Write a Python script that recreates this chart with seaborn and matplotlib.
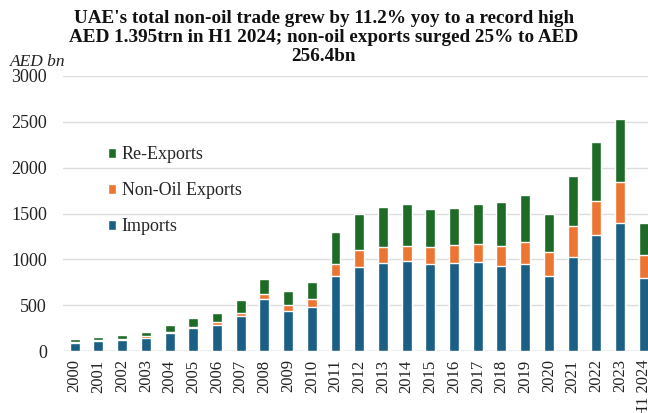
import numpy as np
import pandas as pd
import matplotlib
matplotlib.use("Agg")
import matplotlib.pyplot as plt
import seaborn as sns

# values (AED bn)
years = ['2000', '2001', '2002', '2003', '2004', '2005', '2006', '2007', '2008',
         '2009', '2010', '2011', '2012', '2013', '2014', '2015', '2016', '2017',
         '2018', '2019', '2020', '2021', '2022', '2023', 'H1 2024']
imports = [91, 107, 120, 145, 193, 247, 288, 382, 564, 441, 477, 822, 914, 965,
           986, 950, 965, 972, 932, 950, 816, 1023, 1263, 1398, 794]
non_oil_exports = [10, 12, 12, 15, 16, 15, 30, 38, 58, 65, 87, 131, 189, 167,
                   161, 182, 196, 193, 215, 240, 265, 342, 375, 444, 256]
re_exports = [30, 32, 39, 43, 78, 95, 93, 135, 164, 152, 189, 347, 396, 444,
              455, 419, 401, 440, 477, 510, 412, 543, 644, 688, 346]

c_imp = '#1b5f84'
c_exp = '#ec7532'
c_re = '#1e6b27'

df = pd.DataFrame({'year': years, 'Imports': imports,
                   'Non-Oil Exports': non_oil_exports, 'Re-Exports': re_exports})
df['imp_exp'] = df['Imports'] + df['Non-Oil Exports']
df['total'] = df['imp_exp'] + df['Re-Exports']

sns.set_theme(style='white')
plt.rcParams['font.family'] = ['Liberation Serif', 'DejaVu Serif']

fig = plt.figure(figsize=(6.48, 4.13), dpi=100)
ax = fig.add_axes([0.097, 0.150, 0.903, 0.666])

# stacked bars drawn as layered cumulative totals
sns.barplot(data=df, x='year', y='total', color=c_re, width=0.42,
            saturation=1, ax=ax, label='Re-Exports')
sns.barplot(data=df, x='year', y='imp_exp', color=c_exp, width=0.42,
            saturation=1, ax=ax, label='Non-Oil Exports')
sns.barplot(data=df, x='year', y='Imports', color=c_imp, width=0.42,
            saturation=1, ax=ax, label='Imports')

ax.set_ylim(0, 3000)
ax.set_xlim(-0.5, 24.18)
ax.set_yticks(range(0, 3001, 500))
ax.yaxis.grid(True, color='#dcdcdc', linewidth=1)
ax.set_axisbelow(True)
for s in ax.spines.values():
    s.set_visible(False)
ax.axhline(0, color='#d0d0d0', linewidth=1, zorder=0)
ax.set_xlabel('')
ax.set_ylabel('')
ax.tick_params(axis='x', labelrotation=90, labelsize=12, length=0, pad=6)
ax.tick_params(axis='y', labelsize=13, length=0, pad=11.5)
for lab in ax.get_xticklabels():
    lab.set_color('#222222')
for lab in ax.get_yticklabels():
    lab.set_color('#222222')

ax.legend(loc='upper left', bbox_to_anchor=(0.065, 0.77), frameon=False,
          fontsize=13, handlelength=0.45, handleheight=0.45, labelspacing=1.05,
          handletextpad=0.3, borderaxespad=0)

fig.text(0.5, 0.975,
         "UAE's total non-oil trade grew by 11.2% yoy to a record high\n"
         "AED 1.395trn in H1 2024; non-oil exports surged 25% to AED\n256.4bn",
         ha='center', va='top', fontsize=13.8, fontweight='bold',
         linespacing=1.15, color='#111111')
fig.text(0.015, 0.85, 'AED bn', ha='left', va='center', fontsize=12.5,
         fontstyle='italic', color='#222222')

fig.savefig('out.png', dpi=100)
